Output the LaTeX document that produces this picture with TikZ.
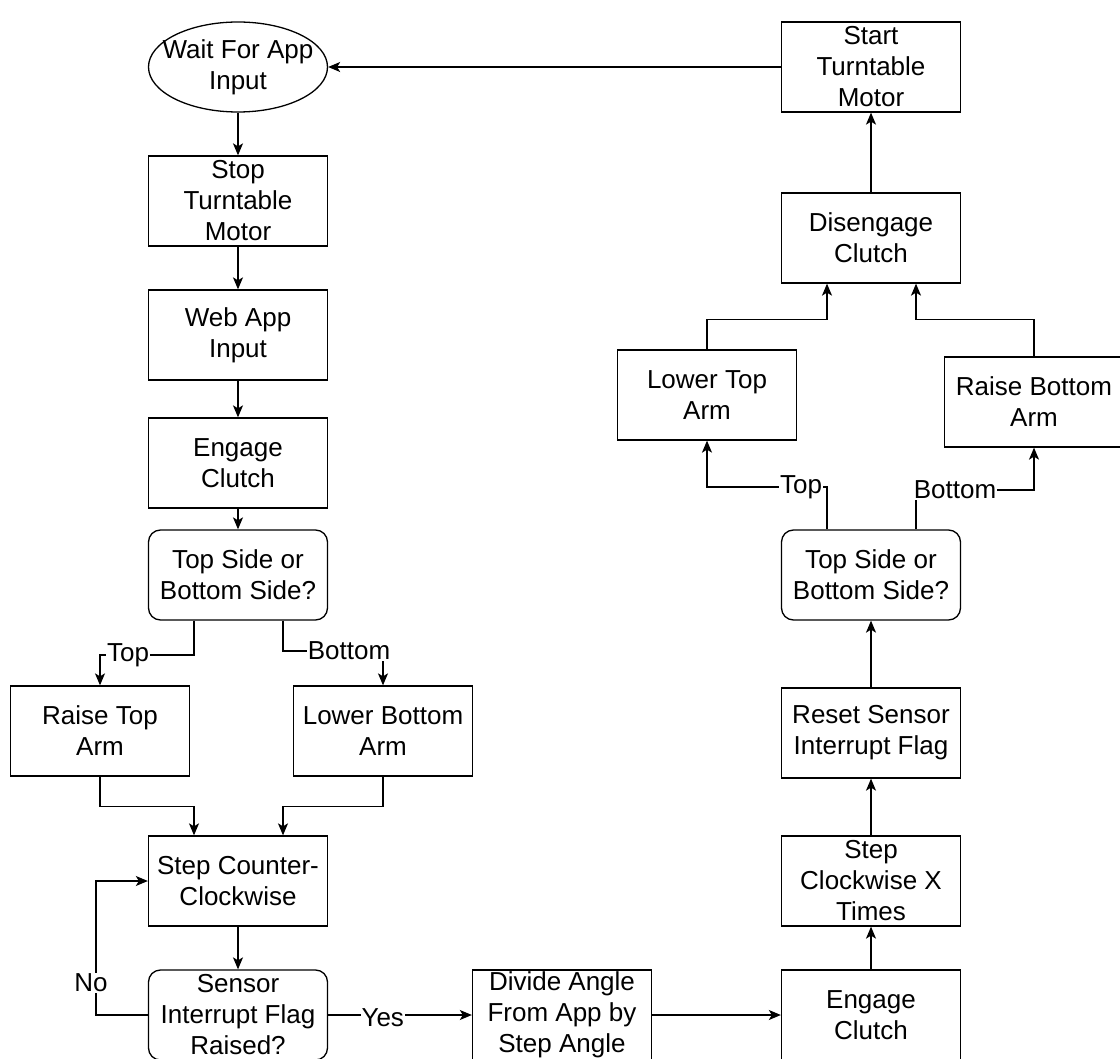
\documentclass[tikz,border=0pt]{standalone}
\usepackage{fontspec}
\setmainfont{Liberation Sans}
\usepackage{tikz}
\usetikzlibrary{
  arrows.meta,
  positioning,
  shapes.geometric
}

\begin{document}
\begin{tikzpicture}[
      x=1pt, y=-1pt,
      >={Stealth[length=12pt,width=10pt,inset=3pt]},
      every node/.style={font=\fontsize{26}{31}\selectfont},
      proc/.style={draw, line width=1.3pt, minimum width=179pt,
                   minimum height=90pt, align=center, inner sep=2pt},
      dec/.style={proc, rounded corners=12pt},
      lbl/.style={fill=white, inner sep=1pt},
      flow/.style={->, line width=1.3pt}
  ]
      \useasboundingbox (0,0) rectangle (1120,1059);

      % Coluna da esquerda
      \node[draw, ellipse, line width=1.3pt, minimum width=179pt, minimum height=90pt,
            label={[align=center]center:Wait For App\\Input}] (wait) at (238,67) {};
      \node[proc] (stopmotor) at (238,201) {Stop\\Turntable\\Motor};
      \node[proc] (webinput) at (238,335) {Web App\\Input};
      \node[proc] (engage1) at (238,463) {Engage\\Clutch};
      \node[dec] (side1) at (238,575) {Top Side or\\Bottom Side?};
      \node[proc] (raisetop) at (100,731) {Raise Top\\Arm};
      \node[proc] (lowerbot) at (383,731) {Lower Bottom\\Arm};
      \node[proc] (stepccw) at (238,881) {Step Counter-\\Clockwise};
      \node[dec] (sensor) at (238,1015) {Sensor\\Interrupt Flag\\Raised?};
      \node[proc] (divide) at (562,1015) {Divide Angle\\From App by\\Step Angle};

      % Coluna da direita
      \node[proc] (engage2) at (871,1015) {Engage\\Clutch};
      \node[proc] (stepcw) at (871,881) {Step\\Clockwise X\\Times};
      \node[proc] (reset) at (871,733) {Reset Sensor\\Interrupt Flag};
      \node[dec] (side2) at (871,575) {Top Side or\\Bottom Side?};
      \node[proc] (lowertop) at (707,395) {Lower Top\\Arm};
      \node[proc] (raisebot) at (1034,402) {Raise Bottom\\Arm};
      \node[proc] (disengage) at (871,238) {Disengage\\Clutch};
      \node[proc] (startmotor) at (871,67) {Start\\Turntable\\Motor};

      % Setas
      \draw[flow] (wait) -- (stopmotor);
      \draw[flow] (stopmotor) -- (webinput);
      \draw[flow] (webinput) -- (engage1);
      \draw[flow] (engage1) -- (side1);
      \draw[flow] ([xshift=-44pt]side1.south) |- (128,655) node[lbl] {Top} -| (raisetop.north);
      \draw[flow] ([xshift=45pt]side1.south) |- (349,651) node[lbl] {Bottom} -| (lowerbot.north);
      \draw[flow] (raisetop.south) -- ++(0,30) -| ([xshift=-44pt]stepccw.north);
      \draw[flow] (lowerbot.south) -- ++(0,30) -| ([xshift=45pt]stepccw.north);
      \draw[flow] (stepccw) -- (sensor);
      \draw[flow] (sensor.west) -| (96,983) node[lbl, xshift=-5pt] {No} |- (stepccw.west);
      \draw[flow] (sensor) -- node[lbl, pos=0.38, yshift=-3pt] {Yes} (divide);
      \draw[flow] (divide) -- (engage2);
      \draw[flow] (engage2) -- (stepcw);
      \draw[flow] (stepcw) -- (reset);
      \draw[flow] (reset) -- (side2);
      \draw[flow] ([xshift=-44pt]side2.north) |- (801,487) node[lbl] {Top} -| (lowertop.south);
      \draw[flow] ([xshift=45pt]side2.north) |- (955,490) node[lbl] {Bottom} -| (raisebot.south);
      \draw[flow] (lowertop.north) -- ++(0,-30) -| ([xshift=-44pt]disengage.south);
      \draw[flow] (raisebot.north) -- ++(0,-37) -| ([xshift=45pt]disengage.south);
      \draw[flow] (disengage) -- (startmotor);
      \draw[flow] (startmotor) -- (wait);
  \end{tikzpicture}
\end{document}
